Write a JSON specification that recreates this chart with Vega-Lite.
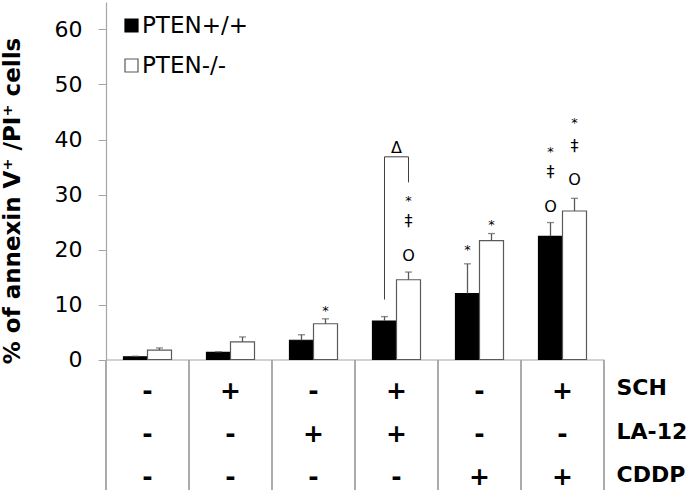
{
  "$schema": "https://vega.github.io/schema/vega-lite/v6.json",
  "background": "white",
  "padding": {"left": 0, "top": 2, "right": 0, "bottom": 0},
  "autosize": {"type": "pad"},
  "spacing": 0,
  "bounds": "flush",
  "config": {"view": {"stroke": null}, "font": "DejaVu Sans"},
  "datasets": {
    "bars": [
      {"group": "1", "series": "PTEN+/+", "value": 0.5, "hi": 0.6},
      {"group": "1", "series": "PTEN-/-", "value": 1.7, "hi": 2.1},
      {"group": "2", "series": "PTEN+/+", "value": 1.3, "hi": 1.4},
      {"group": "2", "series": "PTEN-/-", "value": 3.2, "hi": 4.1},
      {"group": "3", "series": "PTEN+/+", "value": 3.5, "hi": 4.5},
      {"group": "3", "series": "PTEN-/-", "value": 6.5, "hi": 7.4},
      {"group": "4", "series": "PTEN+/+", "value": 7.0, "hi": 7.8},
      {"group": "4", "series": "PTEN-/-", "value": 14.5, "hi": 15.9},
      {"group": "5", "series": "PTEN+/+", "value": 12.0, "hi": 17.4},
      {"group": "5", "series": "PTEN-/-", "value": 21.6, "hi": 22.9},
      {"group": "6", "series": "PTEN+/+", "value": 22.4, "hi": 24.9},
      {"group": "6", "series": "PTEN-/-", "value": 27.0, "hi": 29.3}
    ],
    "marks": [
      {"group": "3", "series": "PTEN-/-", "level": 8.8, "symbol": "*"},
      {"group": "4", "series": "PTEN-/-", "level": 28.8, "symbol": "*"},
      {"group": "4", "series": "PTEN-/-", "level": 25.1, "symbol": "‡"},
      {"group": "4", "series": "PTEN-/-", "level": 18.9, "symbol": "O"},
      {"group": "5", "series": "PTEN+/+", "level": 19.9, "symbol": "*"},
      {"group": "5", "series": "PTEN-/-", "level": 24.4, "symbol": "*"},
      {"group": "6", "series": "PTEN+/+", "level": 37.8, "symbol": "*"},
      {"group": "6", "series": "PTEN+/+", "level": 34.1, "symbol": "‡"},
      {"group": "6", "series": "PTEN+/+", "level": 27.8, "symbol": "O"},
      {"group": "6", "series": "PTEN-/-", "level": 43.0, "symbol": "*"},
      {"group": "6", "series": "PTEN-/-", "level": 38.8, "symbol": "‡"},
      {"group": "6", "series": "PTEN-/-", "level": 32.6, "symbol": "O"}
    ],
    "bracket": [
      {"group": "4", "series": "PTEN+/+", "level": 10.9, "step": 1},
      {"group": "4", "series": "PTEN+/+", "level": 36.85, "step": 2},
      {"group": "4", "series": "PTEN-/-", "level": 36.85, "step": 3},
      {"group": "4", "series": "PTEN-/-", "level": 32.2, "step": 4}
    ],
    "delta": [
      {"group": "4", "level": 38.4, "symbol": "Δ"}
    ],
    "table": [
      {"group": "1", "row": "SCH", "sign": "-"},
      {"group": "1", "row": "LA-12", "sign": "-"},
      {"group": "1", "row": "CDDP", "sign": "-"},
      {"group": "2", "row": "SCH", "sign": "+"},
      {"group": "2", "row": "LA-12", "sign": "-"},
      {"group": "2", "row": "CDDP", "sign": "-"},
      {"group": "3", "row": "SCH", "sign": "-"},
      {"group": "3", "row": "LA-12", "sign": "+"},
      {"group": "3", "row": "CDDP", "sign": "-"},
      {"group": "4", "row": "SCH", "sign": "+"},
      {"group": "4", "row": "LA-12", "sign": "+"},
      {"group": "4", "row": "CDDP", "sign": "-"},
      {"group": "5", "row": "SCH", "sign": "-"},
      {"group": "5", "row": "LA-12", "sign": "-"},
      {"group": "5", "row": "CDDP", "sign": "+"},
      {"group": "6", "row": "SCH", "sign": "+"},
      {"group": "6", "row": "LA-12", "sign": "-"},
      {"group": "6", "row": "CDDP", "sign": "+"}
    ]
  },
  "vconcat": [
    {
      "width": 498,
      "height": 357.5,
      "layer": [
        {
          "data": {"name": "bars"},
          "mark": {"type": "bar", "strokeWidth": 1.2},
          "encoding": {
            "x": {"field": "group", "type": "nominal", "scale": {"domain": ["1","2","3","4","5","6"], "paddingInner": 0, "paddingOuter": 0},
                  "axis": {"title": null, "labels": false, "ticks": false, "domainColor": "#a6a6a6", "domainWidth": 1.2}},
            "xOffset": {"field": "series", "type": "nominal", "scale": {"domain": ["PTEN+/+", "PTEN-/-"], "paddingInner": 0, "paddingOuter": 0.729}},
            "y": {"field": "value", "type": "quantitative", "scale": {"domain": [0, 65], "nice": false},
                  "axis": {"title": "% of annexin V⁺ /PI⁺ cells", "values": [0,10,20,30,40,50,60], "grid": false,
                           "domainColor": "#a6a6a6", "domainWidth": 1.2, "tickColor": "#a6a6a6", "tickSize": 8,
                           "labelFontSize": 22, "labelColor": "#000000", "labelPadding": 16,
                           "titleFontSize": 23, "titleFontWeight": "bold", "titleColor": "#000000",
                           "titleX": -82, "titleY": 198.5}},
            "fill": {"field": "series", "type": "nominal", "scale": {"domain": ["PTEN+/+", "PTEN-/-"], "range": ["#000000", "#ffffff"]},
                     "legend": {"title": null, "orient": "none", "legendX": 14, "legendY": 12, "symbolType": "square", "symbolSize": 169,
                                "labelFontSize": 23, "labelColor": "#000000", "labelOffset": -1, "rowPadding": 16, "symbolStrokeWidth": 1.2, "padding": 0}},
            "stroke": {"field": "series", "type": "nominal", "scale": {"domain": ["PTEN+/+", "PTEN-/-"], "range": ["#000000", "#595959"]},
                       "legend": {"title": null, "orient": "none", "legendX": 14, "legendY": 12, "symbolType": "square", "symbolSize": 169,
                                  "labelFontSize": 23, "labelColor": "#000000", "labelOffset": -1, "rowPadding": 16, "symbolStrokeWidth": 1.2, "padding": 0}}
          }
        },
        {
          "data": {"name": "bars"},
          "mark": {"type": "rule", "color": "#595959", "strokeWidth": 1.3},
          "encoding": {
            "x": {"field": "group", "type": "nominal"},
            "xOffset": {"field": "series", "type": "nominal"},
            "y": {"field": "value", "type": "quantitative"},
            "y2": {"field": "hi"}
          }
        },
        {
          "data": {"name": "bars"},
          "mark": {"type": "tick", "color": "#595959", "thickness": 1.3, "size": 7},
          "encoding": {
            "x": {"field": "group", "type": "nominal"},
            "xOffset": {"field": "series", "type": "nominal"},
            "y": {"field": "hi", "type": "quantitative"}
          }
        },
        {
          "data": {"name": "marks"},
          "transform": [{"filter": "datum.symbol == '*'"}],
          "mark": {"type": "text", "fontSize": 13, "baseline": "middle", "color": "#000000"},
          "encoding": {
            "x": {"field": "group", "type": "nominal"},
            "xOffset": {"field": "series", "type": "nominal"},
            "y": {"field": "level", "type": "quantitative"},
            "text": {"field": "symbol"}
          }
        },
        {
          "data": {"name": "marks"},
          "transform": [{"filter": "datum.symbol != '*'"}],
          "mark": {"type": "text", "fontSize": 16, "baseline": "middle", "color": "#000000"},
          "encoding": {
            "x": {"field": "group", "type": "nominal"},
            "xOffset": {"field": "series", "type": "nominal"},
            "y": {"field": "level", "type": "quantitative"},
            "text": {"field": "symbol"}
          }
        },
        {
          "data": {"name": "bracket"},
          "mark": {"type": "line", "color": "#404040", "strokeWidth": 1},
          "encoding": {
            "x": {"field": "group", "type": "nominal"},
            "xOffset": {"field": "series", "type": "nominal"},
            "y": {"field": "level", "type": "quantitative"},
            "order": {"field": "step", "type": "quantitative"}
          }
        },
        {
          "data": {"name": "delta"},
          "mark": {"type": "text", "fontSize": 16, "baseline": "middle", "color": "#000000"},
          "encoding": {
            "x": {"field": "group", "type": "nominal"},
            "y": {"field": "level", "type": "quantitative"},
            "text": {"field": "symbol"}
          }
        }
      ]
    },
    {
      "width": 498,
      "height": 130,
      "layer": [
        {
          "data": {"name": "table"},
          "mark": {"type": "rule", "color": "#a6a6a6", "strokeWidth": 1.2},
          "encoding": {
            "x": {"field": "group", "type": "nominal", "bandPosition": 0,
                  "scale": {"domain": ["1","2","3","4","5","6"], "paddingInner": 0, "paddingOuter": 0}, "axis": null}
          }
        },
        {
          "data": {"name": "table"},
          "transform": [{"filter": "datum.group == '6'"}],
          "mark": {"type": "rule", "color": "#a6a6a6", "strokeWidth": 1.2},
          "encoding": {
            "x": {"field": "group", "type": "nominal", "bandPosition": 1}
          }
        },
        {
          "data": {"name": "table"},
          "mark": {"type": "text", "fontSize": 25, "fontWeight": "bold", "baseline": "middle", "dy": 9, "color": "#000000"},
          "encoding": {
            "x": {"field": "group", "type": "nominal"},
            "y": {"field": "row", "type": "nominal", "scale": {"domain": ["SCH", "LA-12", "CDDP"], "paddingInner": 0, "paddingOuter": 0},
                  "axis": {"orient": "right", "title": null, "domain": false, "ticks": false, "labelFontSize": 22, "labelFontWeight": "bold",
                           "labelColor": "#000000", "labelPadding": 12, "labelOffset": 6}},
            "text": {"field": "sign"}
          }
        }
      ]
    }
  ]
}
